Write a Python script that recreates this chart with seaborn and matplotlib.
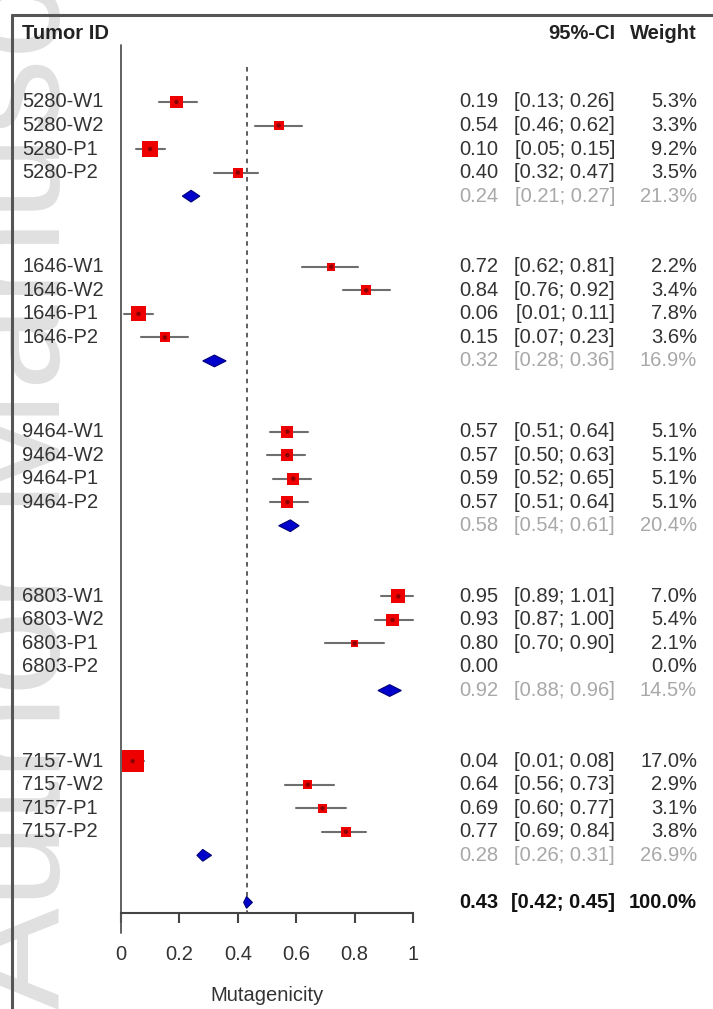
import matplotlib
matplotlib.use('Agg')
import matplotlib.pyplot as plt
import matplotlib.transforms as mtransforms
import numpy as np
import pandas as pd
import seaborn as sns

# Data
tumors = ['5280', '1646', '9464', '6803', '7157']
samples = ['W1', 'W2', 'P1', 'P2']

est = [0.19, 0.54, 0.10, 0.40,
       0.72, 0.84, 0.06, 0.15,
       0.57, 0.57, 0.59, 0.57,
       0.95, 0.93, 0.80, 0.00,
       0.04, 0.64, 0.69, 0.77]
ci_low = [0.13, 0.46, 0.05, 0.32,
          0.62, 0.76, 0.01, 0.07,
          0.51, 0.50, 0.52, 0.51,
          0.89, 0.87, 0.70, np.nan,
          0.01, 0.56, 0.60, 0.69]
ci_high = [0.26, 0.62, 0.15, 0.47,
           0.81, 0.92, 0.11, 0.23,
           0.64, 0.63, 0.65, 0.64,
           1.01, 1.00, 0.90, np.nan,
           0.08, 0.73, 0.77, 0.84]
weight = [5.3, 3.3, 9.2, 3.5,
          2.2, 3.4, 7.8, 3.6,
          5.1, 5.1, 5.1, 5.1,
          7.0, 5.4, 2.1, 0.0,
          17.0, 2.9, 3.1, 3.8]

group_est = [0.24, 0.32, 0.58, 0.92, 0.28]
group_low = [0.21, 0.28, 0.54, 0.88, 0.26]
group_high = [0.27, 0.36, 0.61, 0.96, 0.31]
group_weight = [21.3, 16.9, 20.4, 14.5, 26.9]

overall_est, overall_low, overall_high = 0.43, 0.42, 0.45
xticks = [0, 0.2, 0.4, 0.6, 0.8, 1]
xtick_labels = ['0', '0.2', '0.4', '0.6', '0.8', '1']

# Build table with row positions (4 studies + summary + 2 blank rows per group)
rows = []
for g, t in enumerate(tumors):
    for s, smp in enumerate(samples):
        rows.append({'label': f'{t}-{smp}', 'row': 7 * g + s})
df = pd.DataFrame(rows)
df['est'], df['low'], df['high'], df['weight'] = est, ci_low, ci_high, weight
grp = pd.DataFrame({'row': [7 * g + 4 for g in range(len(tumors))],
                    'est': group_est, 'low': group_low,
                    'high': group_high, 'weight': group_weight})
overall_row = 7 * (len(tumors) - 1) + 6

W, H = 713, 1009
sns.set_theme(style='white')
plt.rcParams['font.family'] = ['Liberation Sans', 'DejaVu Sans']
fs = 14.5

fig = plt.figure(figsize=(W / 100, H / 100), dpi=100)
ax = fig.add_axes([121 / W, 1 - 913 / H, 292 / W, (913 - 45) / H])

# Watermark (behind everything)
fig.text(60 / W, 0.0, 'Author Manuscript', rotation=90, rotation_mode='anchor',
         ha='left', va='baseline', fontsize=110, color='#e0e0e0', zorder=-5)

# Frame
fig.add_artist(plt.Line2D([12 / W, 12 / W], [0, 1 - 15 / H], color='#555555', lw=2.2))
fig.add_artist(plt.Line2D([12 / W, 1], [1 - 15 / H, 1 - 15 / H], color='#555555', lw=2.2))

# Reference line at 0 and dashed line at overall estimate
ax.plot([0, 0], [-2.42, 35.3], color='#555555', lw=1.3, clip_on=False, zorder=1)
ax.plot([overall_est, overall_est], [-1.5, 34.45], color='#333333', lw=1.1,
        ls=(0, (3, 3)), clip_on=False, zorder=1)

# CI lines
d = df.dropna()
for _, r in d.iterrows():
    hi = min(r['high'], 1.0)
    ax.plot([r['low'], hi], [r['row'], r['row']], color='#6e6e6e', lw=1.5, zorder=2,
            clip_on=False)
    if r['high'] > 1.0:
        ax.annotate('', xy=(1.0 + 0.012, r['row']), xytext=(hi - 0.01, r['row']),
                    arrowprops=dict(arrowstyle='-|>', color='black', lw=1.0,
                                    mutation_scale=9), zorder=4)

# Squares sized by weight
d = d[d['weight'] > 0]
sns.scatterplot(data=d, x='est', y='row', size='weight', sizes=(0, 250),
                size_norm=(0, 17), marker='s', color='#ee0000', edgecolor='none',
                linewidth=0, legend=False, ax=ax, zorder=3, clip_on=False)
sns.scatterplot(data=d, x='est', y='row', marker='o', color='#8b0000', s=10,
                edgecolor='none', legend=False, ax=ax, zorder=4, clip_on=False)

# Diamonds for group summaries and overall
hh = 0.25
for _, r in grp.iterrows():
    ax.fill([r['low'], r['est'], r['high'], r['est']],
            [r['row'], r['row'] - hh, r['row'], r['row'] + hh],
            color='#0000cc', edgecolor='#00007a', lw=0.8, zorder=3)
ax.fill([overall_low, overall_est, overall_high, overall_est],
        [overall_row, overall_row - hh, overall_row, overall_row + hh],
        color='#0000cc', edgecolor='#00007a', lw=0.8, zorder=3)

ax.set_xlim(0, 1)
ax.set_ylim(34.45, -2.42)
sns.despine(ax=ax, left=True, top=True, right=True)
ax.spines['bottom'].set_color('#444444')
ax.spines['bottom'].set_linewidth(1.5)
ax.set_yticks([])
ax.set_ylabel('')
ax.set_xticks(xticks)
ax.set_xticklabels(xtick_labels, fontsize=fs, color='#333333')
ax.tick_params(axis='x', direction='out', length=7, width=1.5, color='#444444', pad=16,
               bottom=True)
ax.set_xlabel('Mutagenicity', fontsize=fs, color='#333333', labelpad=16)
ax.patch.set_alpha(0)

# Text columns
tr = mtransforms.blended_transform_factory(fig.transFigure, ax.transData)
txt = '#333333'
grey = '#a8a8a8'
ax.text(22 / W, -2.9, 'Tumor ID', transform=tr, fontsize=fs, fontweight='bold',
        ha='left', va='center', color='#222222')
ax.text(615 / W, -2.9, '95%-CI', transform=tr, fontsize=fs, fontweight='bold',
        ha='right', va='center', color='#222222')
ax.text(697 / W, -2.9, 'Weight', transform=tr, fontsize=fs, fontweight='bold',
        ha='right', va='center', color='#222222')

for _, r in df.iterrows():
    ax.text(22 / W, r['row'], r['label'], transform=tr, fontsize=fs, ha='left',
            va='center', color=txt)
    ax.text(459 / W, r['row'], f"{r['est']:.2f}", transform=tr, fontsize=fs,
            ha='left', va='center', color=txt)
    if not np.isnan(r['low']):
        ax.text(615 / W, r['row'], f"[{r['low']:.2f}; {r['high']:.2f}]", transform=tr,
                fontsize=fs, ha='right', va='center', color=txt)
    ax.text(697 / W, r['row'], f"{r['weight']:.1f}%", transform=tr, fontsize=fs,
            ha='right', va='center', color=txt)

for _, r in grp.iterrows():
    ax.text(459 / W, r['row'], f"{r['est']:.2f}", transform=tr, fontsize=fs,
            ha='left', va='center', color=grey)
    ax.text(615 / W, r['row'], f"[{r['low']:.2f}; {r['high']:.2f}]", transform=tr,
            fontsize=fs, ha='right', va='center', color=grey)
    ax.text(697 / W, r['row'], f"{r['weight']:.1f}%", transform=tr, fontsize=fs,
            ha='right', va='center', color=grey)

ax.text(459 / W, overall_row, f"{overall_est:.2f}", transform=tr, fontsize=fs,
        fontweight='bold', ha='left', va='center', color='#111111')
ax.text(615 / W, overall_row, f"[{overall_low:.2f}; {overall_high:.2f}]", transform=tr,
        fontsize=fs, fontweight='bold', ha='right', va='center', color='#111111')
ax.text(697 / W, overall_row, f"{sum(group_weight):.1f}%", transform=tr, fontsize=fs,
        fontweight='bold', ha='right', va='center', color='#111111')

fig.savefig('out.png', dpi=100, facecolor='white')
